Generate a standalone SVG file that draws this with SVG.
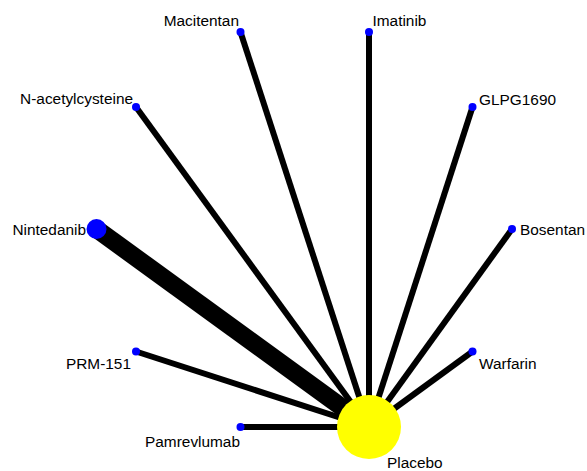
<svg xmlns="http://www.w3.org/2000/svg" width="587" height="471" viewBox="0 0 587 471">
<style>
.e{stroke:#000;stroke-width:6;fill:none}
.n{fill:#0000ff}
.p{fill:#ffff00}
text{font-family:"Liberation Sans",Arial,sans-serif;font-size:15.4px;fill:#000}
.r{text-anchor:end}
</style>
<rect width="587" height="471" fill="#fff"/>
<g id="edges">
<line class="e" x1="369" y1="427" x2="240.5" y2="32"/>
<line class="e" x1="369" y1="427" x2="369" y2="32"/>
<line class="e" x1="369" y1="427" x2="472.5" y2="107"/>
<line class="e" x1="369" y1="427" x2="136" y2="107"/>
<line class="e" x1="369" y1="427" x2="96.5" y2="229" style="stroke-width:18"/>
<line class="e" x1="369" y1="427" x2="512" y2="229"/>
<line class="e" x1="369" y1="427" x2="472.5" y2="351.5"/>
<line class="e" x1="369" y1="427" x2="136" y2="351.5"/>
<line class="e" x1="369" y1="427" x2="240.5" y2="427"/>
</g>
<g id="macitentan"><circle class="n" cx="240.5" cy="32" r="4"/><text class="r" x="239" y="26">Macitentan</text></g>
<g id="imatinib"><circle class="n" cx="369" cy="32" r="4"/><text x="372.5" y="26">Imatinib</text></g>
<g id="glpg1690"><circle class="n" cx="472.5" cy="107" r="4"/><text x="479" y="105">GLPG1690</text></g>
<g id="nac"><circle class="n" cx="136" cy="107" r="4"/><text class="r" x="133" y="104">N-acetylcysteine</text></g>
<g id="nintedanib"><circle class="n" cx="96.5" cy="229" r="10"/><text class="r" x="86" y="234.5">Nintedanib</text></g>
<g id="bosentan"><circle class="n" cx="512" cy="229" r="4"/><text x="520" y="235">Bosentan</text></g>
<g id="warfarin"><circle class="n" cx="472.5" cy="351.5" r="4"/><text x="479" y="369">Warfarin</text></g>
<g id="prm151"><circle class="n" cx="136" cy="351.5" r="4"/><text class="r" x="131" y="369">PRM-151</text></g>
<g id="pamrevlumab"><circle class="n" cx="240.5" cy="427" r="4"/><text class="r" x="240" y="447">Pamrevlumab</text></g>
<g id="placebo"><circle class="p" cx="369" cy="427" r="32"/><text x="387" y="467.5">Placebo</text></g>
</svg>
